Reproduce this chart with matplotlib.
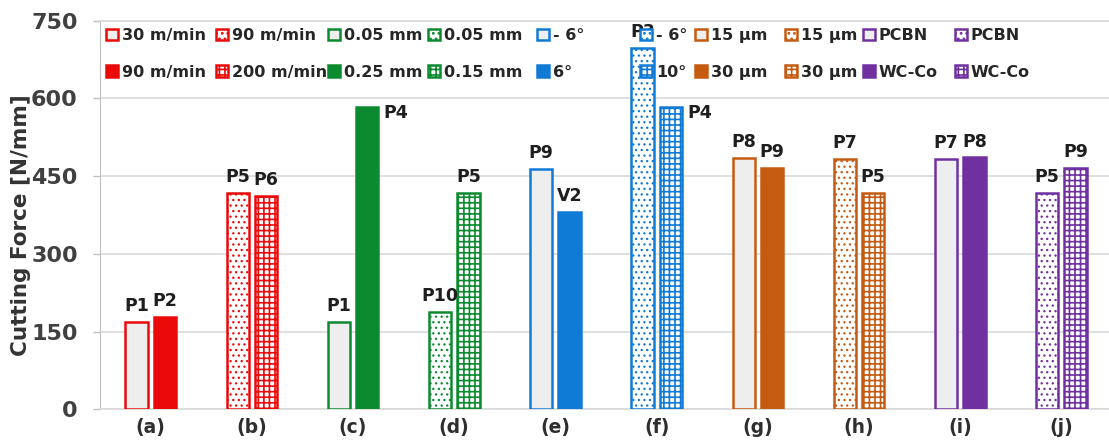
import numpy as np
import matplotlib
matplotlib.use('Agg')
import matplotlib.pyplot as plt

groups = ['(a)', '(b)', '(c)', '(d)', '(e)', '(f)', '(g)', '(h)', '(i)', '(j)']
first_vals = [169, 417, 169, 187, 464, 698, 485, 484, 484, 417]
second_vals = [179, 412, 583, 417, 380, 584, 466, 417, 486, 466]
first_tags = ['P1', 'P5', 'P1', 'P10', 'P9', 'P3', 'P8', 'P7', 'P7', 'P5']
second_tags = ['P2', 'P6', 'P4', 'P5', 'V2', 'P4', 'P9', 'P5', 'P8', 'P9']
first_legend = ['30 m/min', '90 m/min', '0.05 mm', '0.05 mm', '- 6°', '- 6°',
                '15 µm', '15 µm', 'PCBN', 'PCBN']
second_legend = ['90 m/min', '200 m/min', '0.25 mm', '0.15 mm', '6°', '10°',
                 '30 µm', '30 µm', 'WC-Co', 'WC-Co']
yticks = [0, 150, 300, 450, 600, 750]

colors = ['#ea0a0a', '#ea0a0a', '#0c8a30', '#0c8a30', '#0f7bd6', '#0f7bd6',
          '#c55a11', '#c55a11', '#7030a0', '#7030a0']
# second label of (c) and (f) sits beside the bar instead of on top
side_tags = {2, 5}
legend_x = [106, 216, 328, 428, 537, 640, 695, 785, 863, 955]

plt.rcParams['font.family'] = 'DejaVu Sans'
plt.rcParams['font.weight'] = 'bold'
plt.rcParams['hatch.linewidth'] = 1.2

W, H = 1109, 443
fig = plt.figure(figsize=(W / 100, H / 100), dpi=100)
ax = fig.add_axes([100 / W, 33.7 / H, 1009 / W, 388.6 / H])

x = np.arange(len(groups))
off, bw = 0.14, 0.22
for i in range(len(groups)):
    c = colors[i]
    if i % 2 == 0:
        b0 = ax.bar(x[i] - off, first_vals[i], bw, facecolor='#eeeeee',
                    edgecolor=c, linewidth=1.8, zorder=3)
        b1 = ax.bar(x[i] + off, second_vals[i], bw, facecolor=c,
                    edgecolor=c, linewidth=1.8, zorder=3)
    else:
        # thinner strokes so the dot pattern stays speckled
        with plt.rc_context({'hatch.linewidth': 0.9}):
            b0 = ax.bar(x[i] - off, first_vals[i], bw, facecolor='white',
                        hatch='...', edgecolor=c, linewidth=1.8, zorder=3)
        b1 = ax.bar(x[i] + off, second_vals[i], bw, facecolor='white',
                    hatch='+++', edgecolor=c, linewidth=1.8, zorder=3)

    ax.annotate(first_tags[i], (x[i] - off, first_vals[i]), xytext=(0, 5),
                textcoords='offset points', ha='center', va='bottom',
                fontsize=12.5, color='#1e1e1e', zorder=4)
    if i in side_tags:
        ax.annotate(second_tags[i], (x[i] + off + bw / 2, second_vals[i]),
                    xytext=(4, 2), textcoords='offset points', ha='left',
                    va='top', fontsize=12.5, color='#1e1e1e', zorder=4)
    else:
        ax.annotate(second_tags[i], (x[i] + off, second_vals[i]), xytext=(0, 5),
                    textcoords='offset points', ha='center', va='bottom',
                    fontsize=12.5, color='#1e1e1e', zorder=4)

    fig.legend(handles=[b0, b1], labels=[first_legend[i], second_legend[i]],
               loc='upper left', bbox_to_anchor=(legend_x[i] / W, 1 - 28 / H),
               frameon=False, borderpad=0, borderaxespad=0, fontsize=11.5,
               handlelength=0.75, handleheight=0.75, handletextpad=0.25,
               labelspacing=1.35, labelcolor='#262626')

ax.set_xlim(-0.5, 9.47)
ax.set_ylim(0, 750)
ax.set_xticks(x)
ax.set_xticklabels(groups)
ax.set_yticks(yticks)
ax.tick_params(axis='x', length=0, pad=6, labelsize=13.5, labelcolor='#2e2e2e')
ax.tick_params(axis='y', length=5, width=1, color='#bfbfbf', pad=11,
               labelsize=16, labelcolor='#404040')

ax.set_axisbelow(True)
ax.yaxis.grid(True, color='#d9d9d9', linewidth=1.2)
ax.spines['right'].set_visible(False)
for s in ['top', 'bottom']:
    ax.spines[s].set_color('#d9d9d9')
    ax.spines[s].set_linewidth(1.2)
ax.spines['left'].set_color('#bfbfbf')

ax.set_ylabel('Cutting Force [N/mm]', fontsize=15.5, fontweight='bold',
              color='#333333')
ax.yaxis.set_label_coords(-0.068, 0.474)

fig.savefig('out.png', dpi=100)
